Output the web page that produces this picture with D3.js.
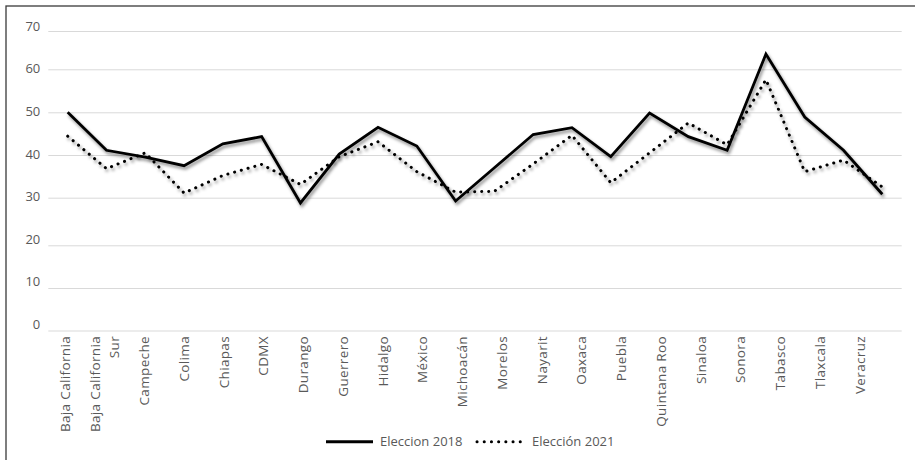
<!DOCTYPE html>
<html>
<head>
<meta charset="utf-8">
<script src="https://cdn.jsdelivr.net/npm/d3@7"></script>
<style>
  html, body { margin: 0; padding: 0; background: #fff; }
  svg { display: block; }
</style>
</head>
<body>
<svg id="chart" width="915" height="460"></svg>
<script>
// ---- data ----
const states = ["Baja California", "Baja California Sur", "Campeche", "Colima", "Chiapas", "CDMX",
  "Durango", "Guerrero", "Hidalgo", "México", "Michoacán", "Morelos", "Nayarit", "Oaxaca",
  "Puebla", "Quintana Roo", "Sinaloa", "Sonora", "Tabasco", "Tlaxcala", "Veracruz"];
const eleccion2018 = [50.0, 41.1, 39.5, 37.5, 42.6, 44.3, 28.9, 40.2, 46.5, 42.1, 29.3, 37.0,
  44.8, 46.4, 39.6, 49.8, 44.3, 41.1, 64.0, 48.9, 41.1, 30.8];
const eleccion2021 = [44.4, 36.8, 40.5, 31.1, 35.2, 37.8, 33.1, 39.6, 43.1, 36.1, 31.3, 31.5,
  37.9, 44.6, 33.5, 40.5, 47.5, 42.4, 57.6, 36.1, 38.8, 32.5];
const yTicks = [0, 10, 20, 30, 40, 50, 60, 70];
const seriesNames = ["Eleccion 2018", "Elección 2021"];

// ---- layout ----
const svg = d3.select("#chart");
const plotLeft = 48.3, plotRight = 901.7;
const textColor = "#595959";
const font = "'Open Sans', sans-serif";

const defs = svg.append("defs");
const f = defs.append("filter").attr("id", "shadow")
  .attr("x", "-10%").attr("y", "-10%").attr("width", "120%").attr("height", "130%");
f.append("feDropShadow").attr("dx", 1.5).attr("dy", 2.5).attr("stdDeviation", 1.6)
  .attr("flood-color", "#000").attr("flood-opacity", 0.45);

// chart border
svg.append("rect").attr("x", 6).attr("y", 6).attr("width", 930).attr("height", 480)
  .attr("fill", "none").attr("stroke", "#3a3a3a").attr("stroke-width", 1.3);

// scales
const y = d3.scaleLinear().domain(yTicks)
  .range([330.5, 288, 245.3, 197.7, 155, 112.3, 69.3, 31]);
const yLabel = d3.scaleLinear().domain([0, 70]).range([324.3, 26.1]);
const xData = d3.scaleBand().domain(d3.range(eleccion2018.length)).range([plotLeft, plotRight]);
const xc = i => xData(i) + xData.bandwidth() / 2;
const xLabel = d3.scalePoint().domain(states).range([65, 860]);

// y axis + gridlines
const yAxis = svg.append("g").attr("transform", `translate(${plotLeft},0)`)
  .call(d3.axisLeft(y).tickValues(yTicks).tickSize(-(plotRight - plotLeft)).tickPadding(8));
yAxis.select(".domain").remove();
yAxis.selectAll(".tick line").attr("stroke", "#d9d9d9").attr("stroke-width", 1);
yAxis.selectAll(".tick text").attr("fill", textColor)
  .style("font-family", font).style("font-size", "13px")
  .attr("y", d => yLabel(d) - y(d));

// x labels (rotated)
const xl = svg.append("g").selectAll("text").data(states).join("text")
  .attr("transform", d => `translate(${xLabel(d)},336) rotate(-90)`)
  .attr("text-anchor", "end")
  .attr("fill", textColor)
  .style("font-family", font).style("font-size", "13.5px")
  .style("letter-spacing", "0.35px");
xl.each(function(d) {
  const t = d3.select(this);
  if (d === "Baja California Sur") {
    t.append("tspan").attr("x", 0).attr("dy", "-0.35em").text("Baja California");
    t.append("tspan").attr("x", 0).attr("dy", "1.4em").text("Sur");
  } else {
    t.attr("dy", "0.35em").text(d);
  }
});

// lines
const line = d3.line().x((d, i) => xc(i)).y(d => y(d));
svg.append("path").datum(eleccion2021)
  .attr("d", line).attr("fill", "none").attr("stroke", "#000")
  .attr("stroke-width", 3).attr("stroke-linecap", "round").attr("stroke-linejoin", "round")
  .attr("stroke-dasharray", "0.1 6.9").attr("filter", "url(#shadow)");
svg.append("path").datum(eleccion2018)
  .attr("d", line).attr("fill", "none").attr("stroke", "#000")
  .attr("stroke-width", 2.8).attr("stroke-linejoin", "miter")
  .attr("filter", "url(#shadow)");

// legend
const legend = svg.append("g");
const legY = 441.7;
legend.append("line").attr("x1", 326).attr("x2", 373).attr("y1", legY).attr("y2", legY)
  .attr("stroke", "#000").attr("stroke-width", 3);
legend.append("text").attr("x", 380).attr("y", legY).attr("dy", "0.35em")
  .attr("fill", textColor).style("font-family", font).style("font-size", "13px")
  .text(seriesNames[0]);
legend.append("line").attr("x1", 477).attr("x2", 527).attr("y1", legY).attr("y2", legY)
  .attr("stroke", "#000").attr("stroke-width", 3).attr("stroke-linecap", "round")
  .attr("stroke-dasharray", "0.1 7.1");
legend.append("text").attr("x", 532).attr("y", legY).attr("dy", "0.35em")
  .attr("fill", textColor).style("font-family", font).style("font-size", "13px")
  .text(seriesNames[1]);
</script>
</body>
</html>
